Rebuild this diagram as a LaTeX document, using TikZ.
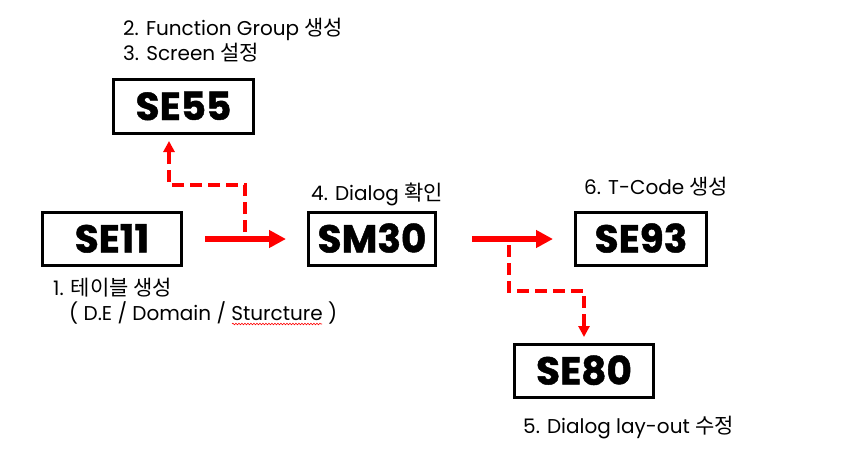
\documentclass[tikz,border=0pt]{standalone}
\usepackage{fontspec}
\setmainfont{Poppins}
\newfontfamily\kr{Noto Sans CJK KR}[Scale=1.05]
\newfontfamily\heavy{Poppins}[BoldFeatures={FakeBold=1.2}]
\usetikzlibrary{arrows.meta,decorations.pathmorphing}
\tikzset{
  codebox/.style={draw=black,line width=3pt,inner sep=0pt,font=\heavy\bfseries\fontsize{39}{39}\selectfont,text height=27pt,text depth=0pt},
  lbl/.style={anchor=base west,inner sep=0pt,font=\fontsize{20}{20}\selectfont},
  solidarrow/.style={draw=red,line width=6pt,-{Triangle[length=17pt,width=17pt]}},
  dasharrow/.style={draw=red,line width=3.5pt,dash pattern=on 12pt off 6pt,-{Triangle[length=11pt,width=11pt]}},
}
\begin{document}
\begin{tikzpicture}[x=1pt,y=-1pt]
\useasboundingbox (0,0) rectangle (862,464);
% boxes
\node[codebox,minimum width=140pt,minimum height=54pt] (se55) at (183.5,106.5) {SE55};
\node[codebox,minimum width=139pt,minimum height=53pt] (se11) at (112,239) {SE11};
\node[codebox,minimum width=127pt,minimum height=53pt] (sm30) at (372,239) {SM30};
\node[codebox,minimum width=131pt,minimum height=53pt] (se93) at (641,239) {SE93};
\node[codebox,minimum width=139pt,minimum height=53pt] (se80) at (584,371) {SE80};
% labels
\node[lbl,text depth=2pt] (t2) at (123,35) {2. Function Group {\kr 생성}};
\node[lbl,text height=14pt] (t3) at (123,60) {3. Screen {\kr 설정}};
\node[lbl] (t4) at (311,200) {4. Dialog {\kr 확인}};
\node[lbl] (t6) at (584,194) {6. T-Code {\kr 생성}};
\node[lbl,text depth=2pt] (t1) at (53,295) {1. {\kr 테이블 생성}};
\node[lbl,text height=14pt] (t1b) at (69,320) {( D.E / Domain / Sturcture )};
\node[lbl] (t5) at (523,433) {5. Dialog lay-out {\kr 수정}};
% spell-check squiggle
\draw[red,line width=0.6pt,decorate,decoration={snake,amplitude=0.8pt,segment length=3pt}] (232,324) -- (322,324);
% solid arrows
\draw[solidarrow,shorten <=22pt,shorten >=21pt] (se11.east) -- (sm30.west);
\draw[solidarrow,shorten <=35pt,shorten >=21pt] (sm30.east) -- (se93.west);
% dashed arrows
\coordinate (j1) at (245,232);
\coordinate (c1) at (169,185);
\draw[dasharrow,shorten >=6pt] (j1) |- (c1) -- (c1 |- se55.south);
\coordinate (j2) at (509,245);
\coordinate (c2) at (584,291);
\draw[dasharrow,shorten >=6pt] (j2) |- (c2) -- (c2 |- se80.north);
\end{tikzpicture}
\end{document}
